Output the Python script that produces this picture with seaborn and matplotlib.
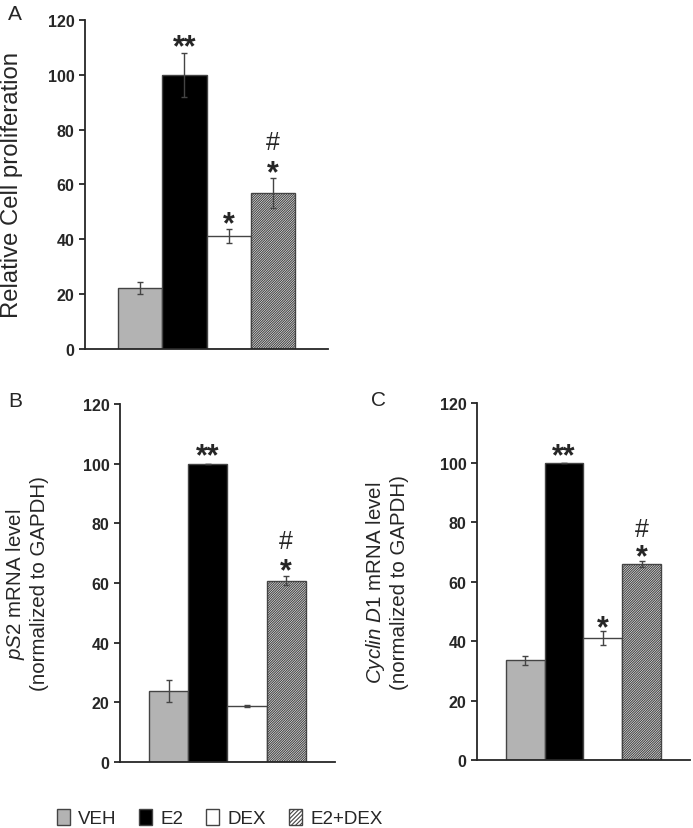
import numpy as np
import matplotlib
matplotlib.use("Agg")
import matplotlib.pyplot as plt
import matplotlib.patches as mpatches
from matplotlib import font_manager
import seaborn as sns

groups = ["VEH", "E2", "DEX", "E2+DEX"]
colors = ["#b3b3b3", "#000000", "#ffffff", "#ffffff"]
hatches = ["", "", "", "/" * 14]

prolif = [22.3, 100, 41.3, 57]
prolif_err = [2.2, 8, 2.5, 5.5]
ps2 = [23.7, 100, 18.7, 60.7]
ps2_err = [3.7, 0, 0.3, 1.5]
cyclin = [33.5, 100, 41, 66]
cyclin_err = [1.5, 0, 2.3, 1.0]

# significance marks: (bar index, text, y position)
marks_a = [(1, "**", 113), (2, "*", 48.5), (3, "*", 67), (3, "#", 75.5)]
marks_b = [(1, "**", 105.6), (3, "*", 67), (3, "#", 74)]
marks_c = [(1, "**", 105), (2, "*", 47.4), (3, "*", 71), (3, "#", 77.6)]

sns.set_style("ticks")
plt.rcParams["font.family"] = ["Liberation Sans", "DejaVu Sans"]
plt.rcParams["mathtext.fontset"] = "custom"
plt.rcParams["mathtext.rm"] = "Liberation Sans"
plt.rcParams["mathtext.it"] = "Liberation Sans:italic"
plt.rcParams["hatch.color"] = "#444444"
plt.rcParams["hatch.linewidth"] = 0.8

installed = {f.name for f in font_manager.fontManager.ttflist}
legend_font = "Liberation Sans Narrow" if "Liberation Sans Narrow" in installed else "Liberation Sans"

fig = plt.figure(figsize=(6.93, 8.29), dpi=100)
ax_a = fig.add_axes([0.1227, 0.5778, 0.351, 0.397])
ax_b = fig.add_axes([0.1732, 0.0796, 0.310, 0.432])
ax_c = fig.add_axes([0.6883, 0.082, 0.307, 0.4306])


def draw(ax, vals, errs, marks, ylabel, label_size):
    sns.barplot(x=groups, y=vals, hue=groups, palette=colors, legend=False,
                width=1.0, edgecolor="#444444", linewidth=1.0, ax=ax)
    for patch, h in zip(ax.patches, hatches):
        patch.set_hatch(h)
    ax.errorbar(np.arange(len(groups)), vals, yerr=errs, fmt="none",
                ecolor="#444444", elinewidth=1.0, capsize=2.5, capthick=1.0)
    for i, txt, y in marks:
        if "*" in txt:
            ax.text(i, y - 3, txt, ha="center", va="center", fontsize=22,
                    fontweight="bold")
        else:
            ax.text(i, y, txt, ha="center", va="center", fontsize=18)
    ax.set_xlim(-1.24, 4.24)
    ax.set_ylim(0, 120)
    ax.set_yticks(range(0, 121, 20))
    ax.set_xticks([])
    ax.set_xlabel("")
    ax.set_ylabel(ylabel, fontsize=label_size)
    ax.tick_params(axis="y", labelsize=11.5, width=1.3, length=4, direction="out")
    for t in ax.get_yticklabels():
        t.set_fontweight("bold")
    sns.despine(ax=ax)
    for s in ["left", "bottom"]:
        ax.spines[s].set_linewidth(1.3)


draw(ax_a, prolif, prolif_err, marks_a, "Relative Cell proliferation", 17.2)
draw(ax_b, ps2, ps2_err, marks_b,
     "$\\mathit{pS2}$ mRNA level\n(normalized to GAPDH)", 14.8)
draw(ax_c, cyclin, cyclin_err, marks_c,
     "$\\mathit{Cyclin\\ D1}$ mRNA level\n(normalized to GAPDH)", 14.8)
ax_a.yaxis.set_label_coords(-0.255, 0.5)
ax_b.yaxis.set_label_coords(-0.33, 0.5)
ax_c.yaxis.set_label_coords(-0.32, 0.5)

fig.text(0.012, 0.982, "A", fontsize=15, va="center")
fig.text(0.012, 0.516, "B", fontsize=15, va="center")
fig.text(0.535, 0.517, "C", fontsize=15, va="center")

handles = [mpatches.Patch(facecolor=c, edgecolor="#444444", hatch=h[:8], label=g)
           for g, c, h in zip(groups, colors, hatches)]
fig.legend(handles=handles, loc="center", bbox_to_anchor=(0.317, 0.012),
           ncol=4, frameon=False, prop={"family": legend_font, "size": 13.5},
           handlelength=0.7, handleheight=1.0, handletextpad=0.45,
           columnspacing=1.2)

fig.savefig("out.png", dpi=100)
